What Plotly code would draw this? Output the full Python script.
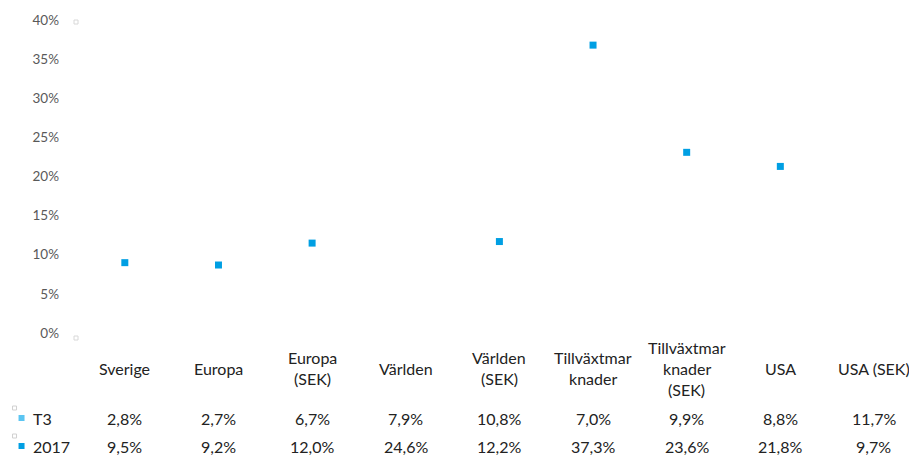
import plotly.graph_objects as go

# ---- data ----
categories = ["Sverige", "Europa", "Europa (SEK)", "Världen", "Världen (SEK)",
              "Tillväxtmarknader", "Tillväxtmarknader (SEK)", "USA", "USA (SEK)"]
category_lines = [["Sverige"], ["Europa"], ["Europa", "(SEK)"], ["Världen"],
                  ["Världen", "(SEK)"], ["Tillväxtmar", "knader"],
                  ["Tillväxtmar", "knader", "(SEK)"], ["USA"], ["USA (SEK)"]]
series_names = ["T3", "2017"]
t3 = [2.8, 2.7, 6.7, 7.9, 10.8, 7.0, 9.9, 8.8, 11.7]
y2017 = [9.5, 9.2, 12.0, 24.6, 12.2, 37.3, 23.6, 21.8, 9.7]
shown_2017 = [True, True, True, False, True, True, True, True, False]
y_ticks = [0, 5, 10, 15, 20, 25, 30, 35, 40]

# ---- layout constants ----
W, H = 909, 455
PLOT_TOP, PLOT_BOTTOM = 24, 337
PLOT_LEFT = 77.5
PLOT_W = W - PLOT_LEFT
CAT_W = 93.7
FONT = "Lato, 'Open Sans', sans-serif"
TXT = "#222222"
C_T3 = "#5BC5F2"
C_2017 = "#009FE3"


def py(ypix):
    return (PLOT_BOTTOM - ypix) / (PLOT_BOTTOM - PLOT_TOP)


def px(xpix):
    return (xpix - PLOT_LEFT) / PLOT_W


def fmt(v):
    return f"{v:.1f}%".replace(".", ",")


fig = go.Figure()
xs = [i for i in range(len(categories)) if shown_2017[i]]
ys = [y2017[i] for i in range(len(categories)) if shown_2017[i]]
fig.add_trace(go.Scatter(
    x=xs, y=ys, mode="markers",
    marker=dict(symbol="square", size=7, color=C_2017, line=dict(width=0)),
    showlegend=False, hoverinfo="skip", cliponaxis=False))

annotations = []
for i, lines in enumerate(category_lines):
    n = len(lines)
    for k, line in enumerate(lines):
        ypix = 368 + (k - (n - 1) / 2) * 21
        annotations.append(dict(x=i, xref="x", y=py(ypix), yref="paper",
                                text=line, showarrow=False, xanchor="center",
                                yanchor="middle",
                                font=dict(family=FONT, size=16, color=TXT)))
    annotations.append(dict(x=i, xref="x", y=py(418), yref="paper", text=fmt(t3[i]),
                            showarrow=False, xanchor="center", yanchor="middle",
                            font=dict(family=FONT, size=16, color=TXT)))
    annotations.append(dict(x=i, xref="x", y=py(446), yref="paper", text=fmt(y2017[i]),
                            showarrow=False, xanchor="center", yanchor="middle",
                            font=dict(family=FONT, size=16, color=TXT)))

row_y = [418, 446]
row_colors = [C_T3, C_2017]
shapes = []
for name, ypix, col in zip(series_names, row_y, row_colors):
    annotations.append(dict(x=px(30), xref="paper", y=py(ypix), yref="paper", text=name,
                            showarrow=False, xanchor="left", yanchor="middle",
                            font=dict(family=FONT, size=16, color=TXT)))
    shapes.append(dict(type="rect", xref="paper", yref="paper",
                       x0=px(18), x1=px(24), y0=py(ypix + 3), y1=py(ypix - 3),
                       fillcolor=col, line=dict(width=0)))
    shapes.append(dict(type="rect", xref="paper", yref="paper",
                       x0=px(12), x1=px(16), y0=py(ypix - 8), y1=py(ypix - 12),
                       fillcolor="rgba(0,0,0,0)", line=dict(width=1, color="#d0d0d0")))
for ypix in (22, 338):
    shapes.append(dict(type="rect", xref="paper", yref="paper",
                       x0=px(PLOT_LEFT - 4), x1=px(PLOT_LEFT),
                       y0=py(ypix + 2), y1=py(ypix - 2),
                       fillcolor="rgba(0,0,0,0)", line=dict(width=1, color="#d8d8d8")))

x_right = PLOT_W / CAT_W - 0.5
fig.update_layout(
    width=W, height=H,
    margin=dict(l=PLOT_LEFT, r=0, t=PLOT_TOP, b=H - PLOT_BOTTOM, pad=0),
    paper_bgcolor="white", plot_bgcolor="white",
    xaxis=dict(range=[-0.5, x_right], showticklabels=False, showgrid=False,
               zeroline=False, showline=False, ticks=""),
    yaxis=dict(range=[0, 40], tickvals=y_ticks, ticktext=[f"{v}%" for v in y_ticks],
               showgrid=False, zeroline=False, showline=False, ticks="",
               ticklabelshift=-4, ticklabelstandoff=18,
               tickfont=dict(family=FONT, size=13.5, color="#595959")),
    annotations=annotations, shapes=shapes,
)
fig.write_html("out.html", config={"displayModeBar": False})

with open("out.html", encoding="utf-8") as f:
    html = f.read()
html = html.replace("<body>", '<body style="margin:0;padding:0;overflow:hidden">', 1)
with open("out.html", "w", encoding="utf-8") as f:
    f.write(html)
